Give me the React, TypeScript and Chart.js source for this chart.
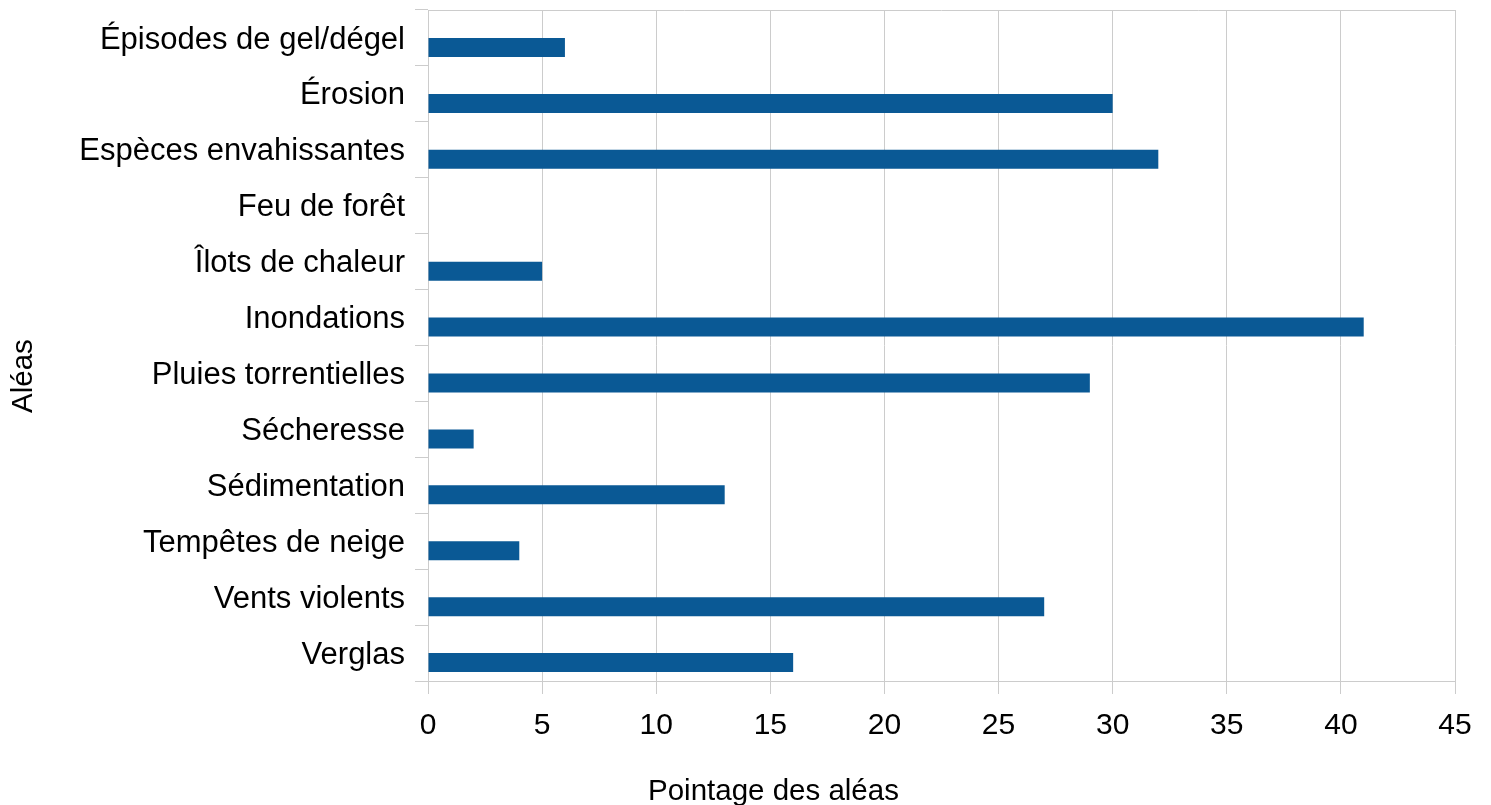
import React, { useEffect, useRef } from "react";
import { Chart, registerables } from "chart.js";

Chart.register(...registerables);

const categories: string[] = [
  "Épisodes de gel/dégel",
  "Érosion",
  "Espèces envahissantes",
  "Feu de forêt",
  "Îlots de chaleur",
  "Inondations",
  "Pluies torrentielles",
  "Sécheresse",
  "Sédimentation",
  "Tempêtes de neige",
  "Vents violents",
  "Verglas",
];

const scores: number[] = [6, 30, 32, 0, 5, 41, 29, 2, 13, 4, 27, 16];
const emptySeries: (number | null)[] = categories.map(() => null);

const xTitle = "Pointage des aléas";
const yTitle = "Aléas";

const FONT = "'Liberation Sans', Arial, sans-serif";
const GRID = "#cccccc";

const framePlugin = {
  id: "framePlugin",
  afterDraw(chart: any) {
    const { ctx, chartArea } = chart;
    ctx.save();
    ctx.strokeStyle = GRID;
    ctx.lineWidth = 1;
    ctx.beginPath();
    ctx.moveTo(chartArea.left, chartArea.top + 0.5);
    ctx.lineTo(chartArea.right, chartArea.top + 0.5);
    ctx.stroke();

    ctx.fillStyle = "#000000";
    ctx.font = `29.5px ${FONT}`;
    ctx.textAlign = "left";
    ctx.textBaseline = "alphabetic";
    ctx.fillText(xTitle, 648, 800);

    ctx.translate(32, 413);
    ctx.rotate(-Math.PI / 2);
    ctx.fillText(yTitle, 0, 0);
    ctx.restore();
  },
};

export default function App() {
  const ref = useRef<HTMLCanvasElement | null>(null);

  useEffect(() => {
    if (!ref.current) return;
    const chart = new Chart(ref.current, {
      type: "bar",
      data: {
        labels: categories,
        datasets: [
          {
            label: "",
            data: emptySeries,
            backgroundColor: "#0a5995",
          },
          {
            label: "Pointage",
            data: scores,
            backgroundColor: "#0a5995",
          },
        ],
      },
      options: {
        indexAxis: "y",
        animation: false,
        responsive: false,
        maintainAspectRatio: false,
        layout: { padding: { top: 10, right: 36, left: 0, bottom: 0 } },
        datasets: {
          bar: { categoryPercentage: 0.68, barPercentage: 1 },
        },
        plugins: {
          legend: { display: false },
          tooltip: { enabled: false },
          title: { display: false },
        },
        scales: {
          x: {
            min: 0,
            max: 45,
            ticks: {
              stepSize: 5,
              color: "#000000",
              font: { family: FONT, size: 30 },
              padding: 14,
              maxRotation: 0,
            },
            grid: {
              color: GRID,
              tickLength: 13,
              drawOnChartArea: true,
              drawTicks: true,
            },
            border: { display: true, color: GRID },
            afterFit: (scale: any) => {
              scale.height = 124;
              scale.paddingLeft = 0;
              scale.paddingRight = 0;
            },
          },
          y: {
            type: "category",
            offset: true,
            ticks: {
              color: "#000000",
              font: { family: FONT, size: 31 },
              padding: 10,
              autoSkip: false,
              labelOffset: 2,
            },
            grid: {
              offset: true,
              color: GRID,
              tickLength: 13,
              drawOnChartArea: false,
              drawTicks: true,
            },
            border: { display: true, color: GRID },
            afterFit: (scale: any) => {
              scale.width = 428;
              scale.paddingTop = 0;
              scale.paddingBottom = 0;
            },
          },
        },
      },
      plugins: [framePlugin],
    });
    return () => chart.destroy();
  }, []);

  return (
    <div
      style={{
        position: "fixed",
        left: 0,
        top: 0,
        width: 1491,
        height: 805,
        background: "#ffffff",
      }}
    >
      <canvas ref={ref} width={1491} height={805} style={{ display: "block" }} />
    </div>
  );
}
